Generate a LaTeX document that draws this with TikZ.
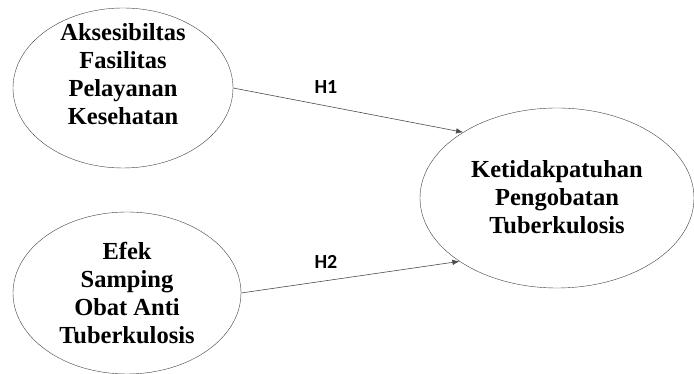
\documentclass[tikz,border=0pt]{standalone}
\usepackage{fontspec}
\setmainfont{Liberation Serif}
\newfontfamily\hfont{Carlito}
\usetikzlibrary{arrows.meta,shapes.geometric}
\tikzset{
  construct/.style={draw, ellipse, thin, draw=black!75, inner sep=0pt},
  varname/.style={align=center, font=\fontsize{24.5}{28}\selectfont\bfseries},
  hyp/.style={font=\hfont\fontsize{20}{22}\selectfont\bfseries},
  hyparrow/.style={draw=black!70, line width=0.6pt, -{Latex[length=7pt,width=5.5pt]}}
}
\begin{document}
\begin{tikzpicture}[x=1pt,y=1pt]
    \useasboundingbox (0,0) rectangle (694,374);
    \node [construct, minimum width=220pt, minimum height=160pt] (A) at (123,286) {};
    \node [varname] (Atext) at (123,300) {Aksesibiltas\\Fasilitas\\Pelayanan\\Kesehatan};
    \node [construct, minimum width=228pt, minimum height=162pt] (E) at (127,81) {};
    \node [varname] (Etext) at (127,81) {Efek\\Samping\\Obat Anti\\Tuberkulosis};
    \node [construct, minimum width=274pt, minimum height=180pt] (K) at (557,176) {};
    \node [varname] (Ktext) at (557,177) {Ketidakpatuhan\\Pengobatan\\Tuberkulosis};
    \path [hyparrow] (A.east) -- (K.145.6);
    \path [hyparrow] (E.east) -- (K.213.6);
    \node [hyp] (H1) at (326,287) {H1};
    \node [hyp] (H2) at (326,112) {H2};
\end{tikzpicture}
\end{document}
